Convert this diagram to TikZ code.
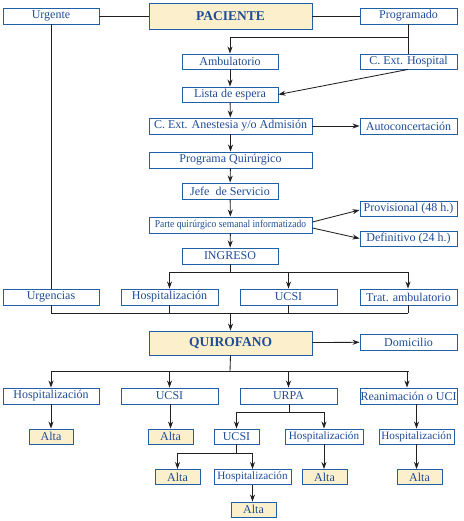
\documentclass[tikz,border=0pt]{standalone}
\usepackage{fontspec}
\setmainfont{Liberation Serif}
\usetikzlibrary{arrows.meta}
\definecolor{bblue}{HTML}{1F5FA6}
\definecolor{tblue}{HTML}{1E4C96}
\definecolor{cream}{HTML}{FCF0CC}
\definecolor{lin}{HTML}{231F20}
\tikzset{
  box/.style={draw=bblue, line width=0.9pt, text=tblue, inner sep=0pt, minimum height=16pt, font=\fontsize{12}{12}\selectfont},
  sbox/.style={box, minimum height=15pt, font=\fontsize{11.2}{12}\selectfont},
  hl/.style={box, fill=cream},
  big/.style={hl, font=\fontsize{13.5}{14}\selectfont\bfseries},
  ln/.style={draw=lin, line width=0.85pt},
  arr/.style={ln, -{Stealth[length=7pt,width=5pt]}},
}
\begin{document}
\begin{tikzpicture}[x=1pt,y=-1pt]
\useasboundingbox (0,0) rectangle (463,521);
% nodes
\node[big, minimum width=163pt, minimum height=26pt] (pac) at (230.5,16) {PACIENTE};
\node[box, minimum width=96pt] (urg) at (51,16) {Urgente};
\node[box, minimum width=97pt] (prog) at (408.5,16) {Programado};
\node[box, minimum width=96pt, minimum height=15pt] (amb) at (230,61.5) {Ambulatorio};
\node[box, minimum width=97pt, minimum height=15pt] (cext) at (408.5,61.5) {C. Ext. Hospital};
\node[box, minimum width=96pt, minimum height=15pt] (lista) at (230,94.5) {Lista de espera};
\node[box, minimum width=163pt] (anest) at (230.5,126) {C. Ext. Anestesia y/o Admisión};
\node[box, minimum width=97pt] (auto) at (408.5,126) {Autoconcertación};
\node[box, minimum width=163pt] (prq) at (230.5,160) {Programa Quirúrgico};
\node[box, minimum width=96pt] (jefe) at (230,191) {Jefe\ \ de Servicio};
\node[box, minimum width=163pt] (parte) at (230.5,225) {\scalebox{0.91}[1]{\fontsize{10.5}{11}\selectfont Parte quirúrgico semanal informatizado}};
\node[box, minimum width=97pt, minimum height=15pt] (prov) at (408.5,208.5) {Provisional (48 h.)};
\node[box, minimum width=97pt, minimum height=15pt] (defi) at (408.5,238.5) {Definitivo (24 h.)};
\node[box, minimum width=96pt] (ing) at (230,256) {INGRESO};
\node[box, minimum width=96pt] (urgc) at (51,297) {Urgencias};
\node[box, minimum width=97pt] (hosp1) at (169.5,297) {Hospitalización};
\node[box, minimum width=97pt] (ucsi1) at (288.5,297) {UCSI};
\node[box, minimum width=97pt] (trat) at (408.5,297) {Trat. ambulatorio};
\node[big, minimum width=163pt, minimum height=24pt] (quir) at (230.5,343) {QUIROFANO};
\node[box, minimum width=97pt] (dom) at (408.5,342) {Domicilio};
\node[box, minimum width=96pt] (hosp2) at (51,396) {Hospitalización};
\node[box, minimum width=97pt] (ucsi2) at (169.5,396) {UCSI};
\node[box, minimum width=97pt] (urpa) at (288.5,396) {URPA};
\node[box, minimum width=97pt] (rean) at (408.5,396) {Reanimación o UCI};
\node[hl, minimum width=44pt, minimum height=15pt] (alta1) at (51,436.5) {Alta};
\node[hl, minimum width=45pt, minimum height=15pt] (alta2) at (170.5,436.5) {Alta};
\node[box, minimum width=45pt, minimum height=15pt] (ucsi3) at (236.5,436.5) {UCSI};
\node[sbox, minimum width=78pt] (hosp3) at (324,436.5) {Hospitalización};
\node[sbox, minimum width=75pt] (hosp4) at (416.5,436.5) {Hospitalización};
\node[hl, minimum width=45pt, minimum height=15pt] (alta3) at (177.5,477) {Alta};
\node[sbox, minimum width=77pt] (hosp5) at (252.5,477) {Hospitalización};
\node[hl, minimum width=45pt, minimum height=15pt] (alta4) at (324.5,477) {Alta};
\node[hl, minimum width=45pt, minimum height=15pt] (alta5) at (419.5,477) {Alta};
\node[hl, minimum width=45pt, minimum height=15pt] (alta6) at (253.5,509.5) {Alta};
% coordinates
\coordinate (jA) at (408,37);
\coordinate (jB) at (230,272);
\coordinate (jC) at (408,313);
\coordinate (jD) at (230,371);
\coordinate (jE) at (289,412);
\coordinate (jF) at (236,453);
% top
\draw[ln] (urg) -- (pac);
\draw[ln] (pac) -- (prog);
\draw[ln] (prog.south -| jA) -- (cext.north -| jA);
\draw[arr] (jA) -| (amb.north);
\draw[arr] (amb) -- (lista);
\draw[arr] (cext.south -| jA) -- (lista.east);
\draw[arr] (lista) -- (anest);
\draw[arr] (anest) -- (auto);
\draw[arr] (anest) -- (prq);
\draw[arr] (prq) -- (jefe);
\draw[arr] (jefe) -- (parte);
\draw[arr] ([yshift=3pt]parte.east) -- ([yshift=-1.5pt]prov.west);
\draw[arr] ([yshift=-3pt]parte.east) -- (defi.west);
\draw[arr] (parte) -- (ing);
\draw[ln] (ing) -- (jB);
\draw[arr] (jB) -| (hosp1.north);
\draw[arr] (jB) -| (ucsi1.north);
\draw[arr] (jB) -| (trat.north -| jC);
% join to quirofano
\draw[ln] (urg) -- (urgc);
\draw[ln] (urgc.south) |- (jC);
\draw[ln] (hosp1.south) -- (hosp1.south |- jC);
\draw[ln] (ucsi1.south) -- (ucsi1.south |- jC);
\draw[ln] (trat.south -| jC) -- (jC);
\draw[arr] (quir.north |- jC) -- (quir.north);
\draw[arr] (quir) -- (dom);
% lower
\draw[ln] (quir.south) -- (jD);
\draw[ln] (hosp2.north |- jD) -- (rean.north |- jD);
\draw[arr] (hosp2.north |- jD) -- (hosp2.north);
\draw[arr] (ucsi2.north |- jD) -- (ucsi2.north);
\draw[arr] (urpa.north |- jD) -- (urpa.north);
\draw[arr] (jD) -| ([xshift=-1.5pt]rean.north);
\draw[arr] (hosp2) -- (alta1);
\draw[arr] (ucsi2.south -| alta2) -- (alta2);
\draw[ln] (urpa.south -| jE) -- (jE);
\draw[arr] (jE) -| (ucsi3.north);
\draw[arr] (jE) -| (hosp3.north);
\draw[arr] (rean.south -| hosp4) -- (hosp4);
\draw[arr] (hosp3) -- (alta4.north -| hosp3);
\draw[arr] (hosp4) -- (alta5.north -| hosp4);
\draw[ln] (ucsi3.south -| jF) -- (jF);
\draw[arr] (jF) -| (alta3.north);
\draw[arr] (jF) -| (hosp5.north);
\draw[arr] (hosp5) -- (alta6.north -| hosp5);
\end{tikzpicture}
\end{document}
